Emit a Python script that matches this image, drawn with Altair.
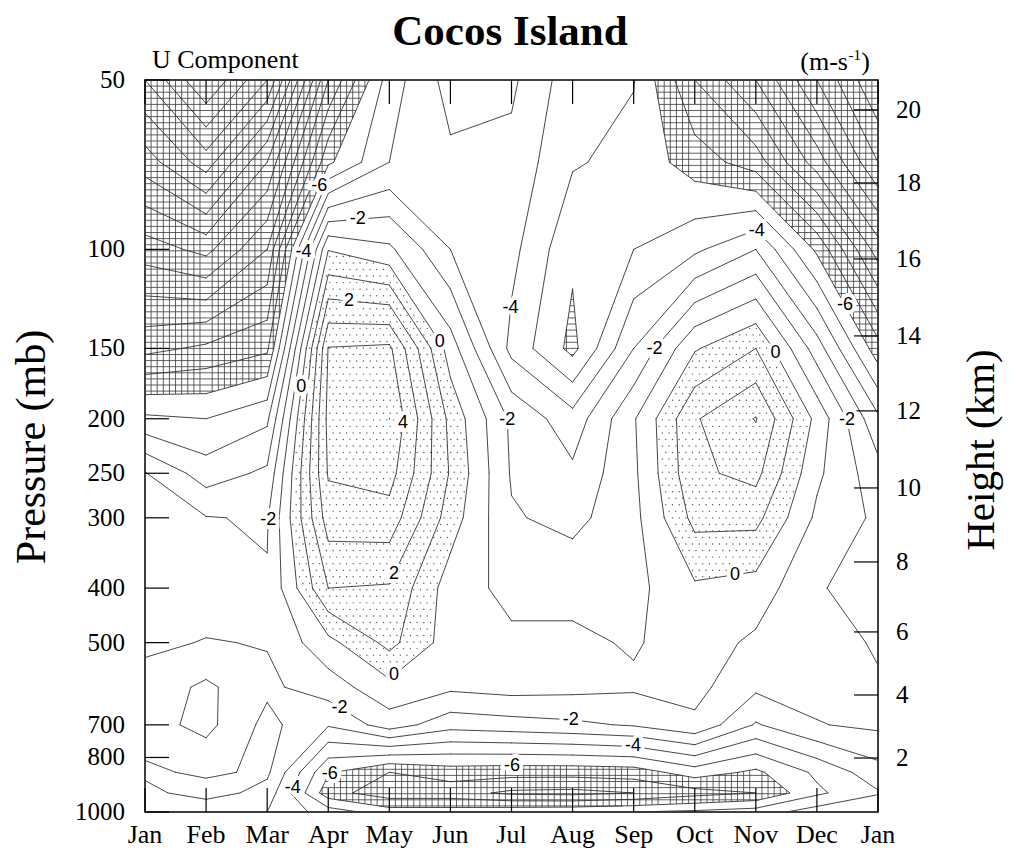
import numpy as np
import pandas as pd
import altair as alt

alt.data_transformers.disable_max_rows()

# ---------------- data ----------------
months = ["Jan", "Feb", "Mar", "Apr", "May", "Jun", "Jul", "Aug", "Sep", "Oct", "Nov", "Dec", "Jan"]
levels_mb = [1000, 925, 850, 700, 600, 500, 400, 300, 250, 200, 150, 100, 70, 50]

# zonal wind u (m/s) for each month column, from 1000 mb up to 50 mb
u_jan = [-2.0, -2.3, -1.8, -2.6, -2.4, -1.8, -1.4, -1.5, -1.95, -4.8, -8.3, -11.5, -14.5, -17.0]
u_feb = [-3.0, -1.5, -2.2, -3.3, -3.2, -2.05, -1.5, -1.95, -3.5, -5.0, -7.8, -12.3, -16.5, -20.0]
u_mar = [-3.0, -2.4, -1.8, -1.7, -2.2, -1.95, -1.9, -2.1, -2.8, -4.2, -7.2, -10.0, -13.0, -17.0]
u_apr = [-4.5, -6.6, -5.9, -2.9, -1.5, -0.3, 2.0, 3.5, 4.1, 4.3, 4.05, -0.05, -6.2, -9.0]
u_may = [-5.5, -7.6, -7.0, -1.5, -0.3, 1.3, 1.9, 3.6, 4.4, 5.0, 4.2, -0.8, -4.0, -4.5]
u_jun = [-5.5, -7.6, -6.5, -2.6, -0.8, -0.5, -0.5, 0.5, 0.9, 0.7, -0.5, -3.0, -3.2, -2.6]
u_jul = [-5.3, -8.2, -6.6, -2.4, -0.6, -0.8, -1.3, -1.9, -2.1, -2.2, -4.3, -3.7, -3.3, -2.8]
u_aug = [-5.2, -8.3, -6.6, -2.2, -0.7, -0.8, -1.3, -2.3, -2.8, -3.6, -6.3, -5.8, -4.9, -4.6]
u_sep = [-5.0, -8.0, -6.5, -1.9, -0.85, -1.1, -1.3, -1.3, -1.2, -1.1, -3.0, -5.0, -5.3, -4.95]
u_oct = [-4.8, -7.4, -5.5, -1.2, -0.7, -0.5, -0.15, 1.3, 1.8, 1.9, -0.1, -4.2, -6.5, -8.0]
u_nov = [-4.5, -7.0, -6.2, -3.1, -1.8, -1.2, -0.4, 1.3, 2.3, 3.05, 1.0, -3.0, -7.5, -10.0]
u_dec = [-3.5, -5.2, -4.8, -2.05, -1.7, -1.6, -1.98, -1.2, -0.8, -0.3, -2.5, -6.2, -10.5, -13.0]
u_jan2 = [-3.0, -4.1, -3.4, -1.8, -1.9, -2.1, -2.1, -2.2, -2.6, -3.8, -6.6, -10.5, -14.0, -16.0]

pressure_ticks = [50, 100, 150, 200, 250, 300, 400, 500, 700, 800, 1000]
height_km = [2, 4, 6, 8, 10, 12, 14, 16, 18, 20]
height_p = [801.8, 619.5, 478.6, 359.4, 265.5, 193.7, 142.5, 104.0, 76.2, 56.5]

# contour labels (value, month position, pressure) as seen in the picture
lab_val = [-6, -2, -4, 2, 0, 0, 4, -2, 2, 0, -2, -4, -6, -6, -2, -4, -4, -2, -2, 0, -4, -6, -2, 0]
lab_mon = [2.70, 3.47, 2.42, 3.34, 2.50, 4.63, 4.14, 2.18, 4.08, 4.13, 3.16, 2.21, 3.03, 6.01,
           6.97, 7.99, 5.81, 5.98, 8.38, 10.40, 10.0, 11.46, 11.51, 9.66]
lab_p = [75.9, 84.8, 100.2, 124, 175.6, 151, 202.6, 302.7, 377.6, 580, 658.8, 884, 859, 815,
         691.8, 766, 126.6, 201, 151, 151, 93.1, 125.6, 201, 379]

HATCH_BELOW = -6
STIPPLE_ABOVE = 0

# ---------------- grid + contouring ----------------
W, H = 733, 732
cols = [u_jan, u_feb, u_mar, u_apr, u_may, u_jun, u_jul, u_aug, u_sep, u_oct, u_nov, u_dec, u_jan2]
Z = np.array(cols, dtype=float).T[::-1]          # rows: 50 mb ... 1000 mb
Y = np.log10(np.array(levels_mb[::-1], dtype=float))
X = np.arange(len(months), dtype=float)
ny, nx = Z.shape
LMIN, LMAX = Y[0], Y[-1]


def bilinear(x, lp):
    i = min(max(int(np.floor(x)), 0), nx - 2)
    j = min(max(int(np.searchsorted(Y, lp)) - 1, 0), ny - 2)
    tx = (x - X[i]) / (X[i + 1] - X[i])
    ty = (lp - Y[j]) / (Y[j + 1] - Y[j])
    return (Z[j, i] * (1 - tx) * (1 - ty) + Z[j, i + 1] * tx * (1 - ty)
            + Z[j + 1, i] * (1 - tx) * ty + Z[j + 1, i + 1] * tx * ty)


def contour_segments(c):
    segs = []
    adj = [(3, 0), (0, 1), (1, 2), (2, 3)]
    for j in range(ny - 1):
        for i in range(nx - 1):
            P = [(X[i], Y[j], Z[j, i]), (X[i + 1], Y[j], Z[j, i + 1]),
                 (X[i + 1], Y[j + 1], Z[j + 1, i + 1]), (X[i], Y[j + 1], Z[j + 1, i])]
            st = [p[2] >= c for p in P]
            pts = {}
            for k in range(4):
                a, b = P[k], P[(k + 1) % 4]
                if st[k] != st[(k + 1) % 4]:
                    t = (c - a[2]) / (b[2] - a[2])
                    pts[k] = (a[0] + t * (b[0] - a[0]), a[1] + t * (b[1] - a[1]))
            if len(pts) == 2:
                p1, p2 = list(pts.values())
                segs.append((p1[0], p1[1], p2[0], p2[1]))
            elif len(pts) == 4:
                center = np.mean([p[2] for p in P]) >= c
                for k in range(4):
                    if st[k] != center:
                        e1, e2 = adj[k]
                        segs.append((pts[e1][0], pts[e1][1], pts[e2][0], pts[e2][1]))
    return segs


all_segs = {}
rows = []
for c in range(int(np.floor(Z.min())) - 1, int(np.ceil(Z.max())) + 1):
    s = contour_segments(c)
    all_segs[c] = s
    for (x1, y1, x2, y2) in s:
        rows.append({"x": x1, "y": 10 ** y1, "x2": x2, "y2": 10 ** y2, "level": c})
seg_df = pd.DataFrame(rows)


def intervals(segs, const, horizontal, lo, hi, test):
    cuts = []
    for (x1, y1, x2, y2) in segs:
        a1, a2, b1, b2 = (y1, y2, x1, x2) if horizontal else (x1, x2, y1, y2)
        if (a1 - const) * (a2 - const) < 0:
            t = (const - a1) / (a2 - a1)
            cuts.append(b1 + t * (b2 - b1))
    pts = sorted([lo, hi] + cuts)
    out = []
    for a, b in zip(pts[:-1], pts[1:]):
        if b - a < 1e-9:
            continue
        m = 0.5 * (a + b)
        v = bilinear(m, const) if horizontal else bilinear(const, m)
        if test(v):
            out.append((a, b))
    return out


# cross-hatching where u < -6
hsegs = all_segs[HATCH_BELOW]
NH = 120
dl = (LMAX - LMIN) / NH
hrows = []
for k in range(1, NH):
    lp = LMIN + k * dl
    for a, b in intervals(hsegs, lp, True, 0.0, 12.0, lambda v: v < HATCH_BELOW):
        hrows.append({"x": a, "x2": b, "y": 10 ** lp, "y2": 10 ** lp})
for k in range(1, 120):
    xv = k * 0.1
    for a, b in intervals(hsegs, xv, False, LMIN, LMAX, lambda v: v < HATCH_BELOW):
        hrows.append({"x": xv, "x2": xv, "y": 10 ** a, "y2": 10 ** b})
hatch_df = pd.DataFrame(hrows)

# stipple where u > 0
ssegs = all_segs[STIPPLE_ABOVE]
drows = []
NS = 112
dls = (LMAX - LMIN) / NS
for k in range(1, NS):
    lp = LMIN + k * dls
    off = 0.055 if k % 2 else 0.0
    for a, b in intervals(ssegs, lp, True, 0.0, 12.0, lambda v: v > STIPPLE_ABOVE):
        n0 = int(np.ceil((a - off) / 0.11 + 0.3))
        n1 = int(np.floor((b - off) / 0.11 - 0.3))
        for n in range(n0, n1 + 1):
            drows.append({"x": off + n * 0.11, "y": 10 ** lp})
dot_df = pd.DataFrame(drows)


# contour labels snapped onto their contour line
def to_px(x, lp):
    return x * W / 12.0, (lp - LMIN) / (LMAX - LMIN) * H


lrows = []
for v, m, p in zip(lab_val, lab_mon, lab_p):
    qx, qy = to_px(m, np.log10(p))
    best = None
    for (x1, y1, x2, y2) in all_segs[v]:
        ax, ay = to_px(x1, y1)
        bx, by = to_px(x2, y2)
        dx, dy = bx - ax, by - ay
        L2 = dx * dx + dy * dy
        t = 0.0 if L2 == 0 else max(0.0, min(1.0, ((qx - ax) * dx + (qy - ay) * dy) / L2))
        cx, cy = ax + t * dx, ay + t * dy
        d = (cx - qx) ** 2 + (cy - qy) ** 2
        if best is None or d < best[0]:
            best = (d, x1 + t * (x2 - x1), y1 + t * (y2 - y1))
    if best is not None:
        lrows.append({"x": best[1], "y": 10 ** best[2], "t": str(v)})
lab_df = pd.DataFrame(lrows)

# ---------------- chart ----------------
xs = alt.Scale(domain=[0, 12], nice=False, zero=False)
ys = alt.Scale(type="log", domain=[50, 1000], reverse=True, nice=False)
SERIF = "Liberation Serif"
SANS = "Liberation Sans"


def X_(f):
    return alt.X(f, scale=xs, axis=None)


def Y_(f):
    return alt.Y(f, scale=ys, axis=None)


hatch = alt.Chart(hatch_df).mark_rule(color="#3a3a3a", strokeWidth=0.8).encode(
    x=X_("x:Q"), x2="x2:Q", y=Y_("y:Q"), y2="y2:Q")
dots = alt.Chart(dot_df).mark_circle(size=2.0, color="#555", opacity=1).encode(
    x=X_("x:Q"), y=Y_("y:Q"))
lines = alt.Chart(seg_df).mark_rule(color="#333", strokeWidth=0.9, strokeCap="round").encode(
    x=X_("x:Q"), x2="x2:Q", y=Y_("y:Q"), y2="y2:Q")

mdf = pd.DataFrame({"m": list(range(len(months))), "name": months})
tick_bot = alt.Chart(mdf).mark_rule(color="black", strokeWidth=1.2).encode(
    x=X_("m:Q"), y=alt.value(H), y2=alt.value(H - 24))
tick_top = alt.Chart(mdf).mark_rule(color="black", strokeWidth=1.2).encode(
    x=X_("m:Q"), y=alt.value(0), y2=alt.value(24))
mlab = alt.Chart(mdf).mark_text(font=SERIF, fontSize=26, baseline="alphabetic", color="black").encode(
    x=X_("m:Q"), y=alt.value(H + 31), text="name:N")

pdf = pd.DataFrame({"p": pressure_ticks, "lab": [str(v) for v in pressure_ticks]})
tick_left = alt.Chart(pdf).mark_rule(color="black", strokeWidth=1.2).encode(
    y=Y_("p:Q"), x=alt.value(0), x2=alt.value(24))
plab = alt.Chart(pdf).mark_text(font=SERIF, fontSize=25, align="right", baseline="middle", color="black").encode(
    y=Y_("p:Q"), x=alt.value(-20), text="lab:N")

hdf = pd.DataFrame({"p": height_p, "lab": [str(v) for v in height_km]})
tick_right = alt.Chart(hdf).mark_rule(color="black", strokeWidth=1.2).encode(
    y=Y_("p:Q"), x=alt.value(W), x2=alt.value(W - 24))
hlab = alt.Chart(hdf).mark_text(font=SERIF, fontSize=25, align="left", baseline="middle", color="black").encode(
    y=Y_("p:Q"), x=alt.value(W + 18), text="lab:N")

halo = alt.Chart(lab_df).mark_text(font=SANS, fontSize=18, stroke="white", strokeWidth=8, fill="white").encode(
    x=X_("x:Q"), y=Y_("y:Q"), text="t:N")
clab = alt.Chart(lab_df).mark_text(font=SANS, fontSize=18, color="black").encode(
    x=X_("x:Q"), y=Y_("y:Q"), text="t:N")


def txt(s, x, y, **kw):
    return alt.Chart(pd.DataFrame({"t": [s]})).mark_text(**kw).encode(
        x=alt.value(x), y=alt.value(y), text="t:N")


title = txt("Cocos Island", 365, -35, font=SERIF, fontSize=43, fontWeight="bold",
            align="center", baseline="alphabetic", color="black")
sub = txt("U Component", 7, -12, font=SERIF, fontSize=26, align="left", baseline="alphabetic", color="black")
u1 = txt(")", 725, -10, font=SERIF, fontSize=26, align="right", baseline="alphabetic", color="black")
u2 = txt("-1", 716, -20, font=SERIF, fontSize=15, align="right", baseline="alphabetic", color="black")
u3 = txt("(m-s", 703, -10, font=SERIF, fontSize=26, align="right", baseline="alphabetic", color="black")
ytitle = txt("Pressure (mb)", -113, 367, font=SERIF, fontSize=42, angle=270,
             align="center", baseline="middle", color="black")
rtitle = txt("Height (km)", 837, 370, font=SERIF, fontSize=41, angle=270,
             align="center", baseline="middle", color="black")

chart = alt.layer(
    hatch, dots, lines, tick_bot, tick_top, tick_left, tick_right,
    halo, clab, mlab, plab, hlab, title, sub, u1, u2, u3, ytitle, rtitle
).properties(
    width=W, height=H,
    padding={"left": 137, "top": 72, "right": 128, "bottom": 40},
    autosize=alt.AutoSizeParams(type="none"),
).configure_view(stroke="black", strokeWidth=1.5)

chart.save("out.html", embed_options={"renderer": "svg", "actions": False})
